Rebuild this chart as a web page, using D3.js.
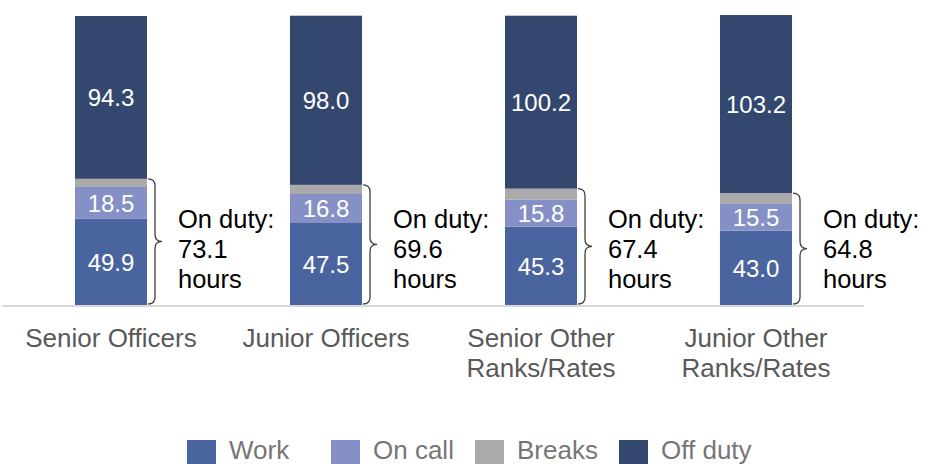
<!DOCTYPE html>
<html>
<head>
<meta charset="utf-8">
<script src="https://cdn.jsdelivr.net/npm/d3@7"></script>
<style>
  html, body { margin: 0; padding: 0; background: #ffffff; }
  svg { display: block; font-family: "Liberation Sans", Arial, Helvetica, sans-serif; }
</style>
</head>
<body>
<svg id="chart" width="927" height="464"></svg>
<script>
// Average weekly hours by rank group
const categories = ["Senior Officers", "Junior Officers", "Senior Other Ranks/Rates", "Junior Other Ranks/Rates"];
const categoryLines = [["Senior Officers"], ["Junior Officers"], ["Senior Other", "Ranks/Rates"], ["Junior Other", "Ranks/Rates"]];
const work    = [49.9, 47.5, 45.3, 43.0];
const onCall  = [18.5, 16.8, 15.8, 15.5];
const breaks  = [4.7, 5.3, 6.3, 6.3];
const offDuty = [94.3, 98.0, 100.2, 103.2];
const onDuty  = [73.1, 69.6, 67.4, 64.8];
const seriesNames = ["Work", "On call", "Breaks", "Off duty"];
const seriesKeys = ["work", "onCall", "breaks", "offDuty"];
const showValue = [true, true, false, true];

const colors = {
  work: "#4a64a0",
  onCall: "#8591c6",
  breaks: "#aaaaaa",
  offDuty: "#34476f"
};

const rows = categories.map((c, i) => ({
  category: c,
  work: work[i], onCall: onCall[i], breaks: breaks[i], offDuty: offDuty[i],
  onDuty: onDuty[i], lines: categoryLines[i]
}));

const svg = d3.select("#chart");

const x = d3.scaleBand()
  .domain(categories)
  .range([3.5, 863.5])
  .paddingInner(0.665)
  .paddingOuter(0.3325);

const y = d3.scaleLinear().domain([0, 168]).range([305, 15]);

const stacked = d3.stack().keys(seriesKeys)(rows);

// Stacked segments
const layers = svg.append("g").selectAll("g")
  .data(stacked)
  .join("g")
  .attr("fill", d => colors[d.key]);

layers.selectAll("rect")
  .data(d => d)
  .join("rect")
  .attr("x", d => x(d.data.category))
  .attr("width", x.bandwidth())
  .attr("y", d => y(d[1]))
  .attr("height", d => y(d[0]) - y(d[1]));

// Value labels inside segments
stacked.forEach((layer, li) => {
  if (!showValue[li]) return;
  svg.append("g").selectAll("text")
    .data(layer)
    .join("text")
    .attr("x", d => x(d.data.category) + x.bandwidth() / 2)
    .attr("y", d => (y(d[0]) + y(d[1])) / 2)
    .attr("dy", "0.36em")
    .attr("text-anchor", "middle")
    .attr("fill", "#ffffff")
    .attr("font-size", 24)
    .text(d => d.data[layer.key].toFixed(1));
});

// Baseline
svg.append("line")
  .attr("x1", 2).attr("x2", 864)
  .attr("y1", y(0) + 1).attr("y2", y(0) + 1)
  .attr("stroke", "#d9d9d9")
  .attr("stroke-width", 2);

// Curly brace spanning the on-duty part of each bar
function bracePath(x0, y0, y1, w) {
  const xm = x0 + w / 2;
  const ym = (y0 + y1) / 2;
  const r = 7;
  return `M${x0},${y0} Q${xm},${y0} ${xm},${y0 + r} L${xm},${ym - r} Q${xm},${ym} ${x0 + w},${ym}` +
         ` Q${xm},${ym} ${xm},${ym + r} L${xm},${y1 - r} Q${xm},${y1} ${x0},${y1}`;
}

const stackOnDutyTop = d => y(d.work + d.onCall + d.breaks);

svg.append("g").selectAll("path")
  .data(rows)
  .join("path")
  .attr("d", d => bracePath(x(d.category) + x.bandwidth() + 1, stackOnDutyTop(d), y(0) - 1, 14))
  .attr("fill", "none")
  .attr("stroke", "#404040")
  .attr("stroke-width", 1.3);

// On-duty annotations
const noteX = d => x(d.category) + x.bandwidth() + 31;
const notes = svg.append("g").selectAll("text")
  .data(rows)
  .join("text")
  .attr("x", noteX)
  .attr("y", 228)
  .attr("fill", "#000000")
  .attr("font-size", 25.5);

notes.each(function (d) {
  const t = d3.select(this);
  ["On duty:", d.onDuty.toFixed(1), "hours"].forEach((s, i) => {
    t.append("tspan")
      .attr("x", noteX(d))
      .attr("dy", i === 0 ? 0 : 30)
      .text(s);
  });
});

// Category axis labels
const catLabels = svg.append("g").selectAll("text")
  .data(rows)
  .join("text")
  .attr("text-anchor", "middle")
  .attr("fill", "#595959")
  .attr("font-size", 26)
  .attr("y", 347);

catLabels.each(function (d) {
  const t = d3.select(this);
  d.lines.forEach((s, i) => {
    t.append("tspan")
      .attr("x", x(d.category) + x.bandwidth() / 2)
      .attr("dy", i === 0 ? 0 : 30)
      .text(s);
  });
});

// Legend
const legend = svg.append("g").selectAll("g")
  .data(seriesKeys)
  .join("g")
  .attr("transform", (d, i) => `translate(${187 + i * 144},440)`);

legend.append("rect")
  .attr("width", 29)
  .attr("height", 29)
  .attr("fill", d => colors[d]);

legend.append("text")
  .attr("x", 42)
  .attr("y", 19)
  .attr("fill", "#767676")
  .attr("font-size", 26)
  .text((d, i) => seriesNames[i]);
</script>
</body>
</html>
